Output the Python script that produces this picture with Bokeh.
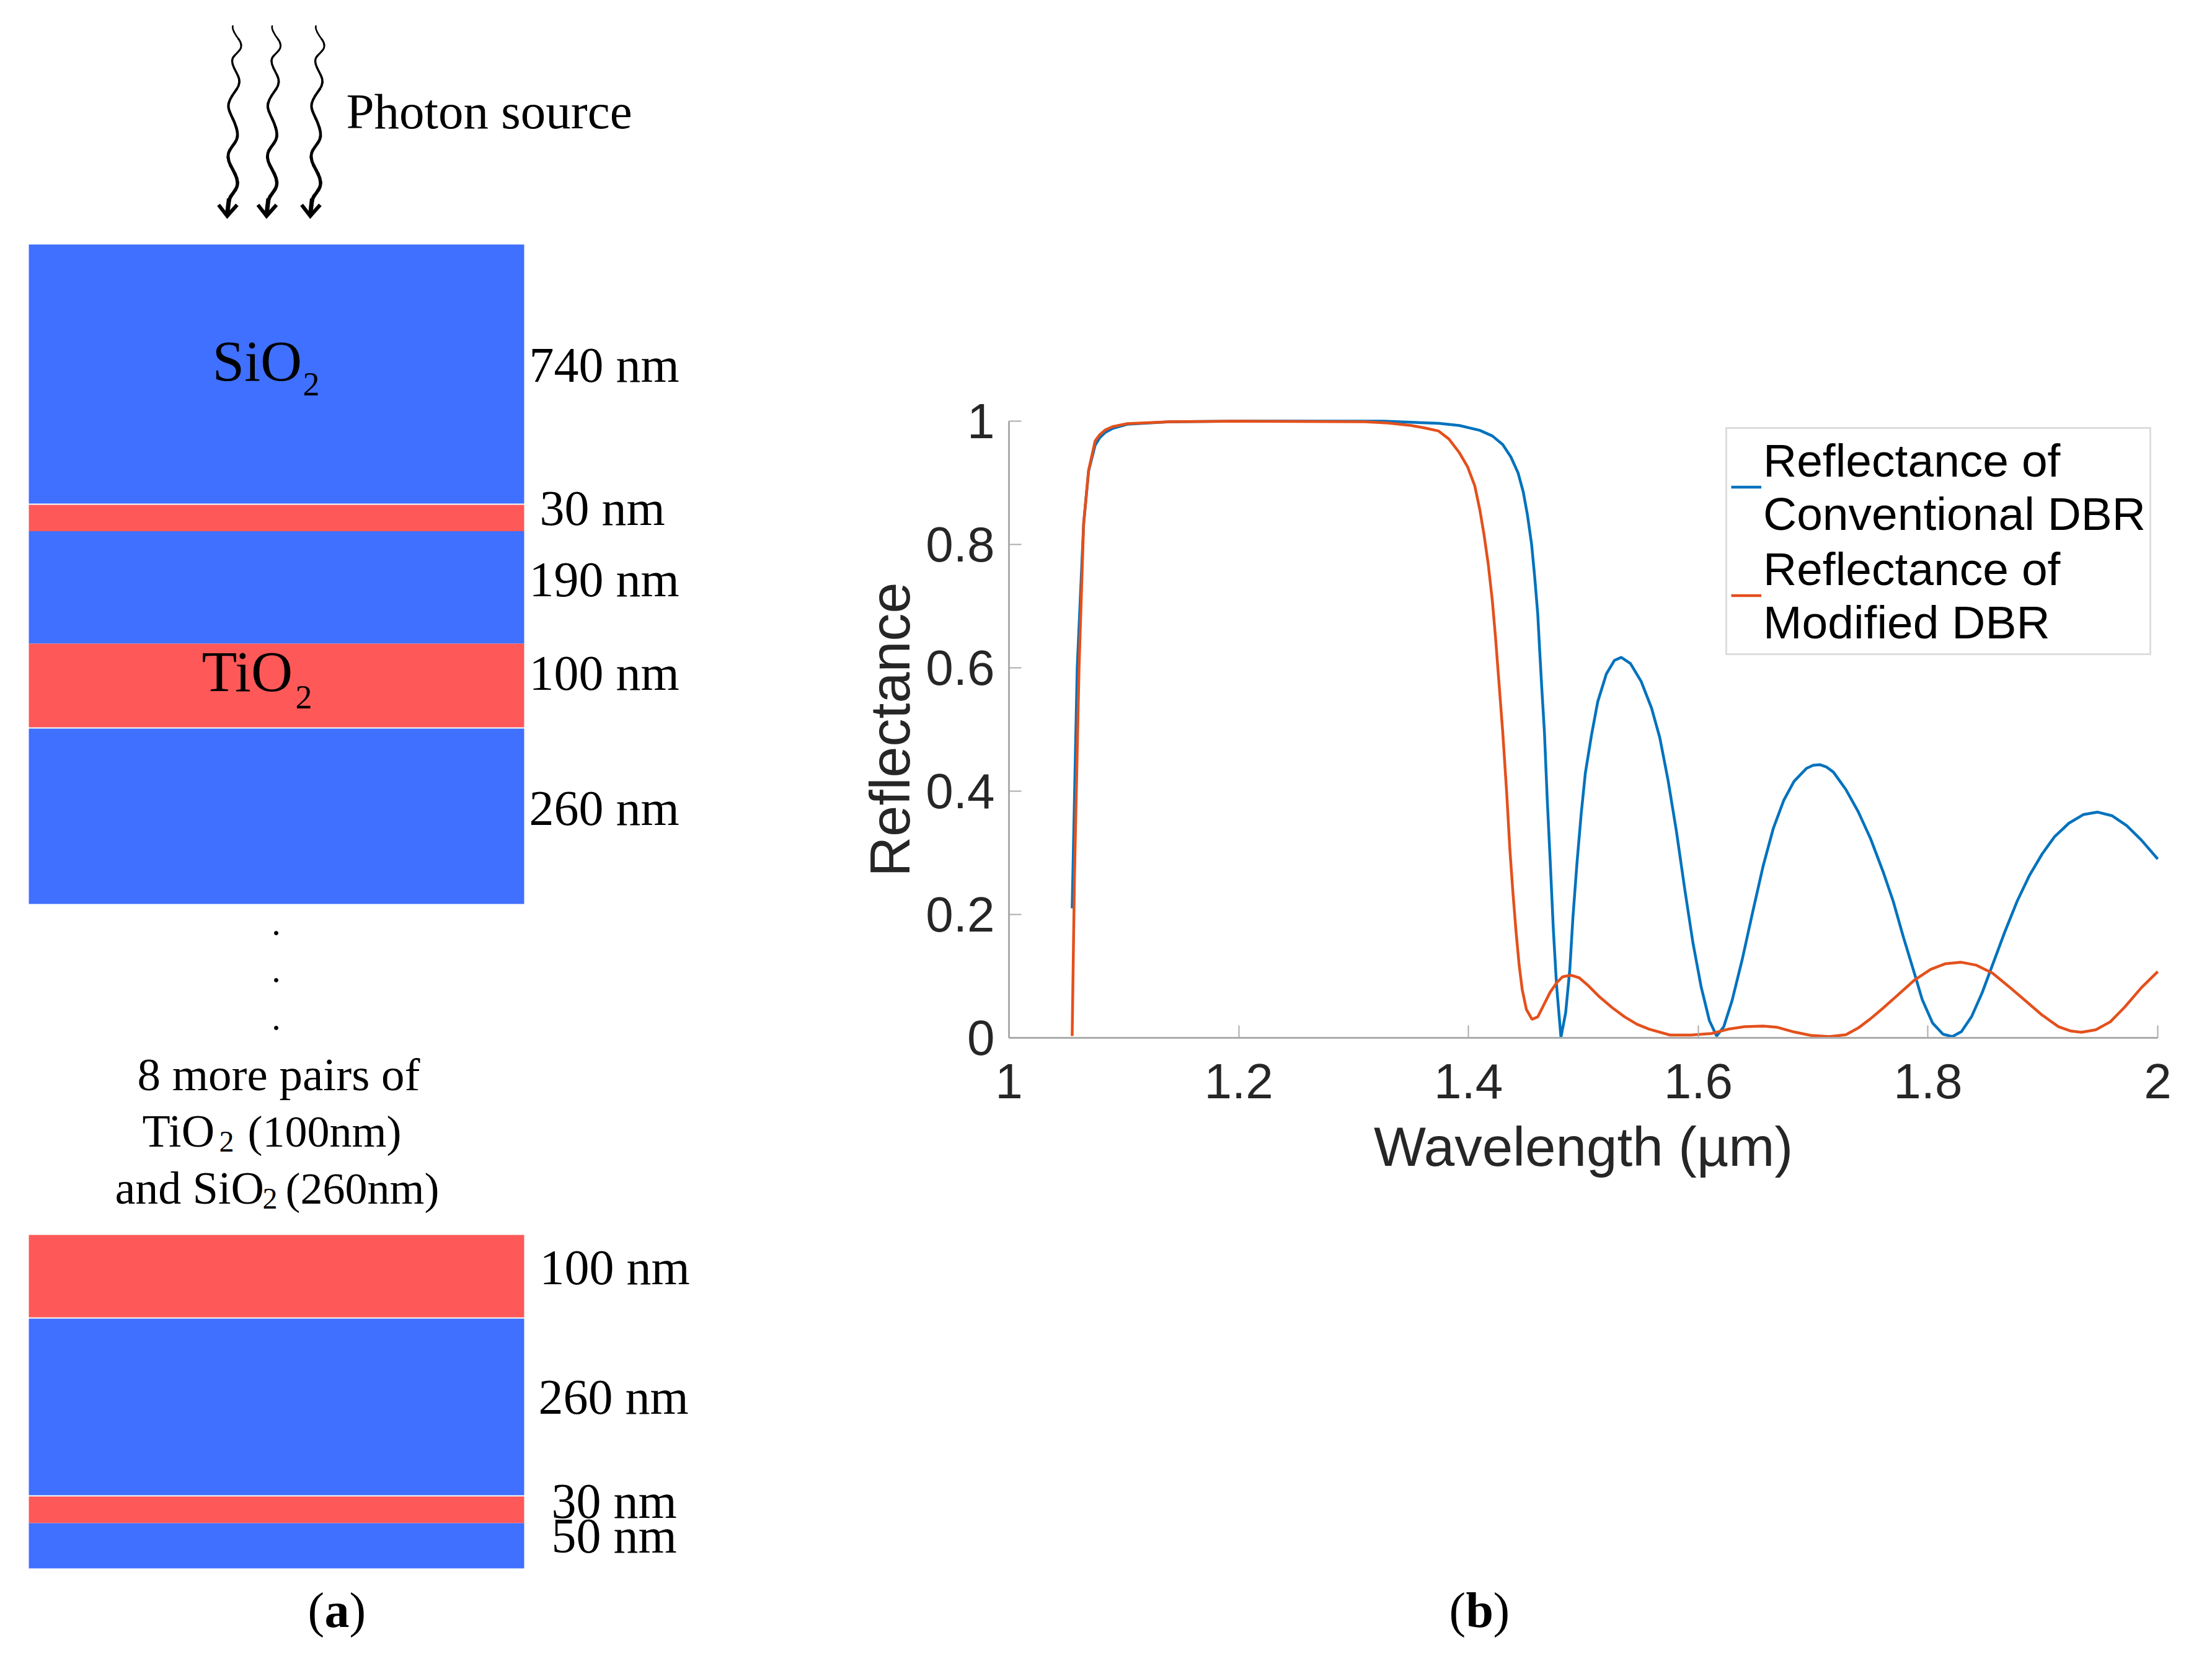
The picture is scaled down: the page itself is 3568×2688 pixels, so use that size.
from bokeh.plotting import figure
from bokeh.models import Range1d, FixedTicker, Legend, LegendItem, LinearAxis
from bokeh.core.properties import value
from bokeh.embed import file_html
from bokeh.resources import INLINE

# ---------- Panel (b) data ----------
wavelength_blue = [1.055,1.0594,1.065,1.0693,1.075,1.079,1.084,1.09,1.103,1.14,1.2,1.326,1.374,1.392,1.4099,1.4208,1.4298,1.4369,1.4432,1.4477,1.4513,1.4549,1.4576,1.4603,1.4621,1.4639,1.4661,
    1.4685,1.4711,1.4738,1.4766,1.4793,1.4805,1.4846,1.4882,1.4909,1.4945,1.4981,1.5017,1.507,1.5125,1.52,1.527,1.533,1.541,1.5503,1.5593,1.5665,1.5737,1.581,1.5881,1.5953,1.6025,1.6097,1.616,1.6222,1.6294,1.6384,1.6474,1.6564,1.6654,1.6744,1.6834,1.6942,1.70,1.7058,1.7118,1.7176,1.7284,1.7392,1.75,1.7608,1.7698,1.7788,1.7878,1.795,1.804,1.813,1.8211,1.8291,1.8381,1.8471,1.8561,1.8669,1.8777,1.8885,1.8993,1.9101,1.9226,1.9352,1.9478,1.9604,1.973,1.9856,2.0]
reflect_blue = [0.21,0.60,0.834,0.919,0.961,0.973,0.982,0.988,0.995,0.999,1.0,1.0,0.9965,0.993,0.985,0.976,0.962,0.942,0.916,0.885,0.848,0.801,0.748,0.687,0.624,0.564,0.496,
    0.389,0.288,0.178,0.087,0.027,0.001,0.041,0.111,0.195,0.285,0.363,0.429,0.490,0.545,0.590,0.612,0.617,0.607,0.578,0.535,0.487,0.418,0.335,0.243,0.155,0.083,0.028,0.003,0.018,0.060,0.128,0.204,0.278,0.340,0.385,0.416,0.437,0.442,0.443,0.439,0.431,0.403,0.367,0.323,0.270,0.221,0.162,0.107,0.062,0.024,0.006,0.002,0.010,0.035,0.073,0.118,0.172,0.222,0.264,0.298,0.326,0.348,0.362,0.366,0.360,0.344,0.321,0.290]
wavelength_red = [1.055,1.057,1.061,1.065,1.0693,1.075,1.079,1.084,1.09,1.103,1.14,1.2,1.31,1.33,1.35,1.362,1.374,1.383,1.392,1.3992,1.4055,1.41,1.4136,1.4172,1.4208,1.4235,1.4262,1.4298,1.4333,1.436,1.4387,1.4414,1.4441,1.4468,1.4504,1.4553,1.4603,1.4657,1.4711,
    1.4766,1.4819,1.4891,1.4963,1.5035,1.5143,1.5251,1.5359,1.5467,1.5575,1.5755,1.5935,1.6115,1.6259,1.6403,1.6565,1.669,1.6835,1.6979,1.7141,1.7285,1.7393,1.75,1.7608,1.7698,1.7878,1.8022,1.8148,1.8291,1.8417,1.8561,1.8705,1.8849,1.8993,1.9137,1.9245,1.9335,1.9461,1.9587,1.9713,1.9856,2.0]
reflect_red = [0.003,0.26,0.60,0.834,0.92,0.968,0.978,0.986,0.991,0.996,0.999,1.0,0.999,0.997,0.993,0.989,0.984,0.971,0.949,0.926,0.895,0.855,0.815,0.768,0.708,0.650,0.584,0.496,0.396,0.306,0.235,0.172,0.118,0.078,0.046,0.030,0.034,0.054,0.074,
    0.089,0.099,0.1015,0.0975,0.086,0.066,0.049,0.034,0.022,0.014,0.0045,0.0045,0.007,0.014,0.018,0.019,0.017,0.0095,0.004,0.002,0.005,0.016,0.031,0.048,0.063,0.093,0.111,0.120,0.1225,0.118,0.105,0.083,0.060,0.037,0.018,0.011,0.009,0.013,0.026,0.050,0.081,0.1075]
x_ticks = [1.0,1.2,1.4,1.6,1.8,2.0]
x_tick_labels = ["1","1.2","1.4","1.6","1.8","2"]
y_ticks = [0.0,0.2,0.4,0.6,0.8,1.0]
y_tick_labels = ["0","0.2","0.4","0.6","0.8","1"]
legend_labels = ["Reflectance of\nConventional DBR","Reflectance of\nModified DBR"]

# ---------- Panel (a) data (layer stack) ----------
BLUE, RED = "#4070FF", "#FF5858"
layer_colors = [BLUE,RED,BLUE,RED,BLUE,RED,BLUE,RED,BLUE]
layer_tops    = [394,814,856.5,1038,1175,1992,2127,2414,2457]
layer_bottoms = [812,856.5,1038,1173,1458,2125,2412,2457,2530]
layer_left, layer_right = 46, 845

thickness_labels = ["740 nm","30 nm","190 nm","100 nm","260 nm","100 nm","260 nm","30 nm","50 nm"]
thickness_x = [853,870,853,853,853,870,868,889,889]
thickness_y = [616,847,962,1113,1331,2072,2281,2449,2505]

ray_x = [376,374,380,388,389,382,374,374,380,386,385,378,370,367,372,378,383,382,373,367,368,375,382,383,375,369,366]
ray_y = [38,45,57,67,77,85,93,103,115,127,138,148,160,172,185,197,213,225,237,247,260,273,287,300,312,320,345]
ray_offsets = [0,63.5,134]
head_x = [352,366,382]
head_y = [330,348,330]

# Canvas: frame covers the page, primary ranges are reference pixels.
W, H = 3552, 2672
p = figure(width=W, height=H, x_range=Range1d(0,W), y_range=Range1d(H,0),
           output_backend="svg", toolbar_location=None, x_axis_location=None, y_axis_location=None,
           min_border=0, outline_line_color=None, background_fill_color="white")
p.grid.visible = False

# ---------- Panel (a) ----------
p.quad(left=[layer_left]*9, right=[layer_right]*9, top=layer_tops, bottom=layer_bottoms,
       fill_color=layer_colors, line_color=None)

SERIF = "Liberation Serif"
BASE = 0.34  # offset of the renderer's alphabetic baseline, in em
def txt(x, y, s, size, weight="normal", align="left"):
    p.text([x],[y-BASE*size],text=[s],text_font=value(SERIF),text_font_size=f"{size}px",text_font_style=weight,
           text_baseline="alphabetic",text_align=align,text_color="#000000")

for s,x,y in zip(thickness_labels,thickness_x,thickness_y):
    txt(x,y,s,80)
txt(558,207,"Photon source",81)
txt(342,614,"SiO",93); txt(488,638,"2",54)
txt(325,1115,"TiO",93); txt(476,1143,"2",54)
txt(449,1758,"8 more pairs of",75,align="center")
txt(229,1850,"TiO",74); txt(353,1858,"2",48); txt(399,1850,"(100nm)",72)
txt(185,1942,"and SiO",74); txt(423,1950,"2",48); txt(460,1942,"(260nm)",72)
txt(496,2625,"(",80); txt(523,2625,"a",80,"bold"); txt(563,2625,")",80)
txt(2349-12,2625,"(",80); txt(2376-12,2625,"b",80,"bold"); txt(2420-12,2625,")",80)
p.scatter([445,445,445],[1505,1581,1658],size=6,color="black")

for off in ray_offsets:
    n = len(ray_x)
    for i in range(1,n-1):
        xa = (ray_x[i-1]+ray_x[i])/2+off; ya = (ray_y[i-1]+ray_y[i])/2
        xb = (ray_x[i]+ray_x[i+1])/2+off; yb = (ray_y[i]+ray_y[i+1])/2
        p.quadratic(x0=[xa],y0=[ya],x1=[xb],y1=[yb],cx=[ray_x[i]+off],cy=[ray_y[i]],
                    line_color="black",line_width=2.5+3.5*i/n,line_cap="round")
    p.line([v+off for v in head_x],head_y,line_color="black",line_width=6,line_join="miter")
    p.line([ray_x[-2]+off,ray_x[-1]+off],[ray_y[-2],ray_y[-1]],line_color="black",line_width=7)

# ---------- Panel (b): its own scales, mapped on the same frame ----------
PLOT_L, PLOT_R, PLOT_T, PLOT_B = 1627, 3480, 679, 1674
sx = (PLOT_R-PLOT_L)/1.0; sy = (PLOT_B-PLOT_T)/1.0
p.extra_x_ranges["wl"] = Range1d(1+(0-PLOT_L)/sx, 1+(W-PLOT_L)/sx)
p.extra_y_ranges["rf"] = Range1d((PLOT_B-H)/sy, (PLOT_B-0)/sy)

l1 = p.line(wavelength_blue, reflect_blue, x_range_name="wl", y_range_name="rf",
            line_color="#0072BD", line_width=4.5)
l2 = p.line(wavelength_red, reflect_red, x_range_name="wl", y_range_name="rf",
            line_color="#E4501C", line_width=4.5)

xax = LinearAxis(x_range_name="wl", y_range_name="rf", fixed_location=0, bounds=(1,2))
yax = LinearAxis(x_range_name="wl", y_range_name="rf", fixed_location=1, bounds=(0,1))
for ax, ticks, labs, title in ((xax,x_ticks,x_tick_labels,"Wavelength (µm)"),
                               (yax,y_ticks,y_tick_labels,"Reflectance")):
    ax.ticker = FixedTicker(ticks=ticks)
    ax.major_label_overrides = dict(zip(ticks,labs))
    ax.minor_tick_line_color = None
    ax.major_tick_in = 20; ax.major_tick_out = 0
    ax.major_tick_line_color = "#ababab"; ax.major_tick_line_width = 2
    ax.axis_line_color = "#ababab"; ax.axis_line_width = 3
    ax.major_label_text_font = "Liberation Sans"; ax.major_label_text_font_size = "80px"
    ax.major_label_text_color = "#262626"
    ax.axis_label = title
    ax.axis_label_text_font = "Liberation Sans"; ax.axis_label_text_font_style = "normal"
    ax.axis_label_text_color = "#262626"
xax.axis_label_text_font_size = "89px"
yax.axis_label_text_font_size = "90px"
xax.major_label_standoff = 42
xax.axis_label_standoff = 25
yax.major_label_standoff = 23
yax.major_label_orientation = "horizontal"
yax.axis_label_standoff = 4
p.add_layout(xax,"below")
p.add_layout(yax,"left")

legend = Legend(items=[LegendItem(label=legend_labels[0],renderers=[l1]),
                       LegendItem(label=legend_labels[1],renderers=[l2])],
                location=(2783,H-1057), orientation="vertical", padding=6, margin=0, spacing=0,
                glyph_width=49, glyph_height=175, label_height=175, label_standoff=3,
                label_text_font="Liberation Sans", label_text_font_size="75px", label_text_color="#000000",
                label_text_line_height=1.2,
                border_line_color="#bbbbbb", border_line_width=3, background_fill_color="white")
p.add_layout(legend)

open("out.html","w").write(file_html(p,INLINE))
